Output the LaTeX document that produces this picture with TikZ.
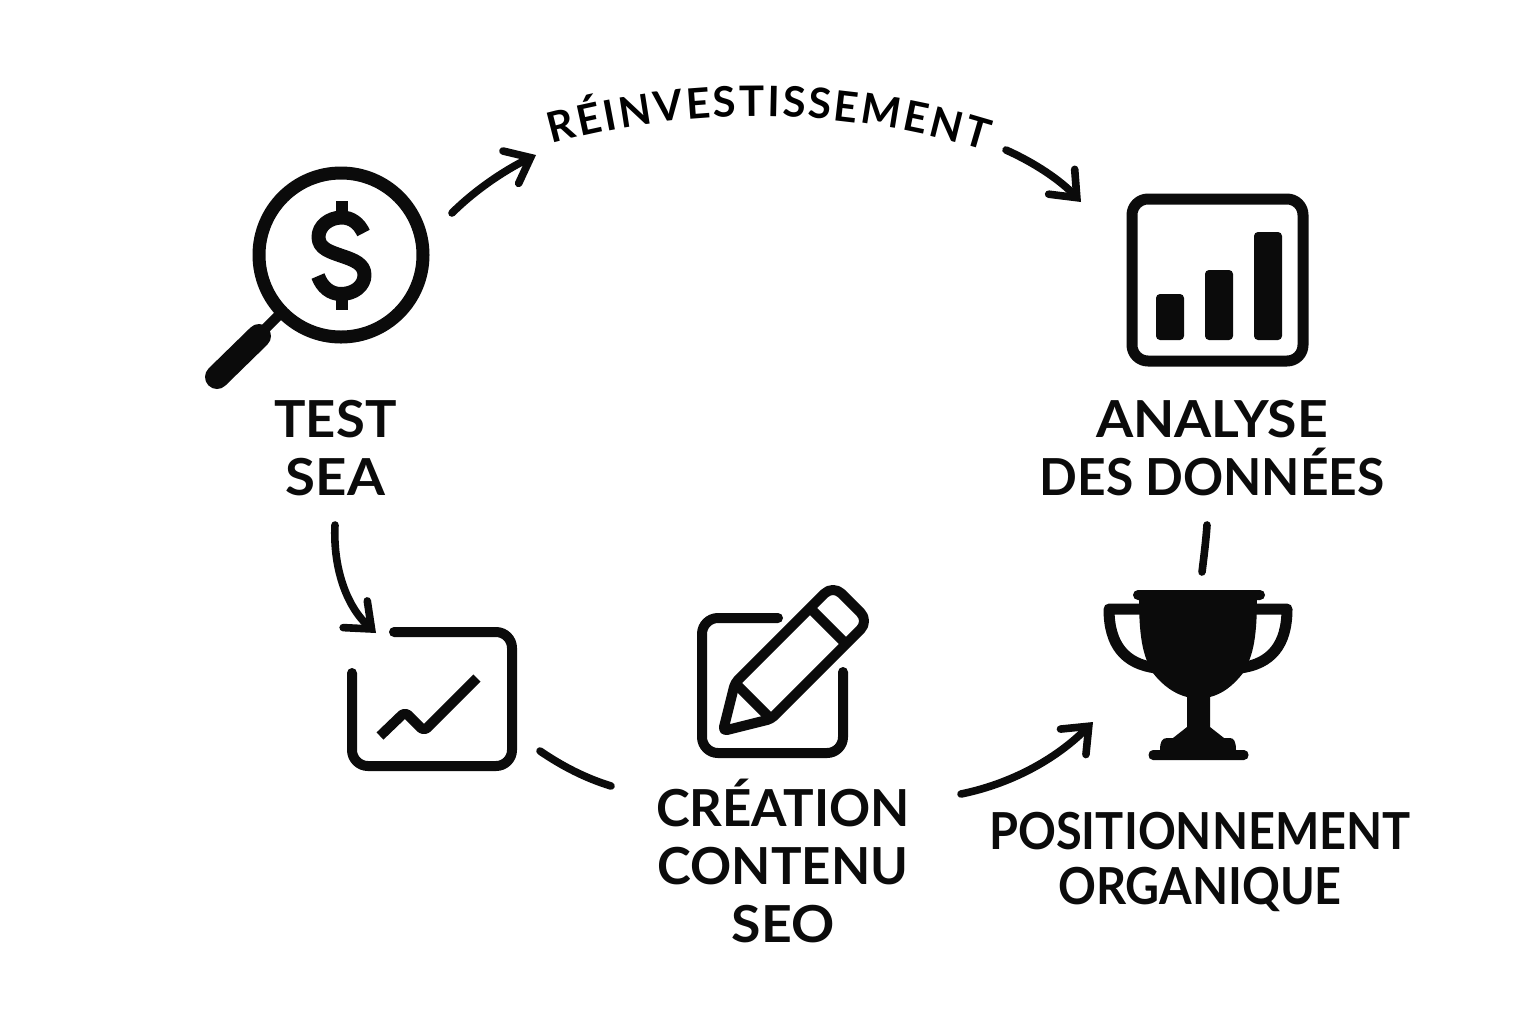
\documentclass[tikz,border=0pt]{standalone}
\usepackage{fontspec}
\setmainfont{Lato}
\usetikzlibrary{arrows.meta,decorations.text}
\definecolor{ink}{HTML}{0B0B0B}
\newcommand{\sx}[2]{\scalebox{#1}[1]{#2}}
\tikzset{
  every node/.style={text=ink},
  lab/.style={font=\fontsize{25.5}{29}\selectfont\bfseries,align=center,inner sep=0pt,anchor=base},
  icon/.style={draw=ink,line width=5pt,line cap=round,line join=round},
  link/.style={draw=ink,line width=3.8pt,line cap=round},
  head/.style={-{Straight Barb[length=11pt,width=18pt,line width=3.8pt,line cap=round]}},
}
\begin{document}
\begin{tikzpicture}[x=0.5pt,y=-0.5pt]
\useasboundingbox[fill=white] (0,0) rectangle (1536,1024);
% magnifier
\draw[icon,line width=6.5pt] (341,255) circle (82);
\draw[draw=ink,line width=5pt] (279,315) -- (256,338);
\draw[draw=ink,line width=12pt,line cap=round] (259,336) -- (217,377);
\draw[draw=ink,line width=7pt,line cap=butt,line join=round]
  (363.5,233) .. controls (359,223) and (351,217.5) .. (342,217.5)
  .. controls (329,217.5) and (318.5,226) .. (318.5,237)
  .. controls (318.5,249) and (331,252) .. (342,256)
  .. controls (354,260) and (364.5,264) .. (364.5,275)
  .. controls (364.5,286) and (354,294) .. (341,294)
  .. controls (330,294) and (322,287) .. (318,276);
\fill[ink] (336,201) rectangle (348,213);
\fill[ink] (336,298) rectangle (348,310);
% bars
\draw[icon,line width=5.5pt,rounded corners=8pt] (1220,199) -- (1303,199) -- (1303,361) -- (1132,361) -- (1132,199) -- cycle;
\fill[ink,rounded corners=2pt] (1156,294) rectangle (1184,340);
\fill[ink,rounded corners=2pt] (1205,270) rectangle (1233,340);
\fill[ink,rounded corners=2pt] (1254,232) rectangle (1282,340);
% chart
\draw[icon,rounded corners=8pt] (394,632) -- (512,632) -- (512,766) -- (352,766) -- (352,673);
\draw[icon,line cap=butt,rounded corners=2pt] (380,736) -- (405,712) -- (424,731) -- (477,678);
% pencil note
\draw[icon,rounded corners=8pt] (778,618) -- (702,618) -- (702,753) -- (843,753) -- (843,672);
\draw[icon] (723,731) [rounded corners=2pt] -- (735,683) -- (810,608) [rounded corners=6pt] -- (833,585) -- (869,621) -- (846,644) [rounded corners=2pt] -- (771,719) -- cycle;
\draw[icon,line cap=butt] (810,608) -- (846,644);
\draw[icon,line cap=butt] (735,683) -- (771,719);
% trophy
\draw[draw=ink,line width=5.5pt,line join=round,line cap=round]
  (1140,609) -- (1109,609) .. controls (1109,645) and (1125,664) .. (1156,668);
\draw[draw=ink,line width=5.5pt,line join=round,line cap=round]
  (1256,609) -- (1287,609) .. controls (1287,645) and (1271,664) .. (1240,668);
\fill[ink,rounded corners=2.5pt] (1133,590) rectangle (1265,600);
\fill[ink] (1139,595) -- (1257,595)
  .. controls (1257,635) and (1254,655) .. (1243,673)
  .. controls (1233,686) and (1222,694) .. (1210,697)
  -- (1210,727) -- (1224,738) -- (1230,738) .. controls (1234,738) and (1236,742) .. (1236,750)
  -- (1244,750) .. controls (1250,750) and (1250,760) .. (1244,760)
  -- (1153,760) .. controls (1147,760) and (1147,750) .. (1153,750)
  -- (1160,750) .. controls (1160,742) and (1162,738) .. (1167,738)
  -- (1173,738) -- (1187,727) -- (1187,697)
  .. controls (1175,694) and (1163,686) .. (1153,673)
  .. controls (1142,655) and (1139,635) .. (1139,595) -- cycle;
% labels
\node[lab] (test) at (335.5,495) {\sx{1.03}{TEST}\\\sx{1.07}{SEA}};
\node[lab] (analyse) at (1212,495) {\sx{1.05}{ANALYSE}\\\sx{.975}{DES DONNÉES}};
\node[lab] (creation) at (783,942) {CRÉATION\\CONTENU\\\sx{1.05}{SEO}};
\node[lab,font=\fontsize{25.5}{27.5}\selectfont\bfseries] (posit) at (1200,904) {\sx{.92}{POSITIONNEMENT}\\\sx{.92}{ORGANIQUE}};
% connectors
\coordinate (a1) at (452,213); \coordinate (a2) at (536,155);
\coordinate (b1) at (1006,150); \coordinate (b2) at (1081,202);
\coordinate (c1) at (335,525); \coordinate (c2) at (376,633);
\coordinate (d1) at (540,751); \coordinate (d2) at (611,786);
\coordinate (e1) at (961,794); \coordinate (e2) at (1093,722);
\coordinate (f1) at (1207,525); \coordinate (f2) at (1202,572);
\coordinate (g1) at (552,144); \coordinate (g2) at (985,151);
\draw[link,head] (a1) .. controls (475,190) and (505,170) .. (a2);
\draw[link,head] (b1) .. controls (1035,163) and (1060,180) .. (b2);
\draw[link,head] (c1) .. controls (333,565) and (345,605) .. (c2);
\draw[link] (d1) .. controls (562,766) and (585,778) .. (d2);
\draw[link,head] (e1) .. controls (1010,784) and (1055,760) .. (e2);
\draw[link] (f1) .. controls (1206,540) and (1204,556) .. (f2);
\path[decorate,decoration={text along path,text align=fit to path,
  text={|\fontsize{21}{24}\selectfont\bfseries|RÉINVESTISSEMENT}}]
  (g1) .. controls (690,106) and (840,106) .. (g2);
\end{tikzpicture}
\end{document}
